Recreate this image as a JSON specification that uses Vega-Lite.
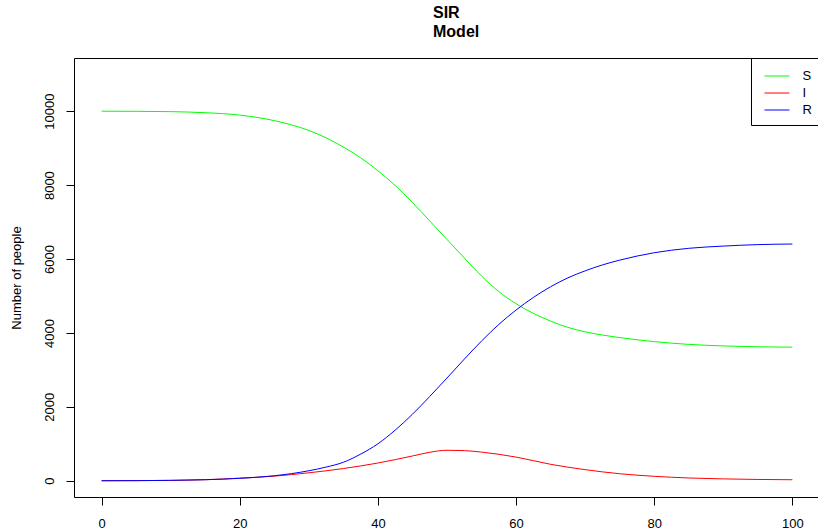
{
  "$schema": "https://vega.github.io/schema/vega-lite/v6.json",
  "autosize": {"type": "none"},
  "width": 746,
  "height": 439,
  "padding": {"left": 74, "top": 58, "right": 0, "bottom": 33},
  "background": "white",
  "title": {
    "text": ["SIR", "Model"],
    "font": "Liberation Sans",
    "fontSize": 16,
    "fontWeight": "bold",
    "color": "black",
    "anchor": "middle",
    "align": "left",
    "dx": -14,
    "lineHeight": 19,
    "offset": 18,
    "frame": "group"
  },
  "data": {
    "values": [
      {"t": 0, "n": 10000, "c": "S"}, {"t": 5, "n": 9997, "c": "S"}, {"t": 10, "n": 9988, "c": "S"}, {"t": 15, "n": 9960, "c": "S"}, {"t": 20, "n": 9895, "c": "S"}, {"t": 25, "n": 9745, "c": "S"}, {"t": 30, "n": 9480, "c": "S"}, {"t": 32.5, "n": 9280, "c": "S"}, {"t": 35, "n": 9030, "c": "S"}, {"t": 37.5, "n": 8740, "c": "S"}, {"t": 40, "n": 8390, "c": "S"}, {"t": 42.5, "n": 7990, "c": "S"}, {"t": 45, "n": 7530, "c": "S"}, {"t": 47.5, "n": 7030, "c": "S"}, {"t": 50, "n": 6530, "c": "S"}, {"t": 52.5, "n": 6030, "c": "S"}, {"t": 55, "n": 5540, "c": "S"}, {"t": 57.5, "n": 5120, "c": "S"}, {"t": 60, "n": 4790, "c": "S"}, {"t": 62.5, "n": 4530, "c": "S"}, {"t": 65, "n": 4320, "c": "S"}, {"t": 67.5, "n": 4150, "c": "S"}, {"t": 70, "n": 4030, "c": "S"}, {"t": 75, "n": 3875, "c": "S"}, {"t": 80, "n": 3765, "c": "S"}, {"t": 85, "n": 3690, "c": "S"}, {"t": 90, "n": 3648, "c": "S"}, {"t": 95, "n": 3625, "c": "S"}, {"t": 100, "n": 3614, "c": "S"},
      {"t": 0, "n": 1, "c": "I"}, {"t": 5, "n": 3, "c": "I"}, {"t": 10, "n": 10, "c": "I"}, {"t": 15, "n": 28, "c": "I"}, {"t": 20, "n": 70, "c": "I"}, {"t": 25, "n": 125, "c": "I"}, {"t": 30, "n": 215, "c": "I"}, {"t": 35, "n": 330, "c": "I"}, {"t": 40, "n": 480, "c": "I"}, {"t": 45, "n": 670, "c": "I"}, {"t": 47.5, "n": 770, "c": "I"}, {"t": 50, "n": 825, "c": "I"}, {"t": 52.5, "n": 815, "c": "I"}, {"t": 55, "n": 775, "c": "I"}, {"t": 60, "n": 640, "c": "I"}, {"t": 65, "n": 445, "c": "I"}, {"t": 70, "n": 300, "c": "I"}, {"t": 75, "n": 190, "c": "I"}, {"t": 80, "n": 120, "c": "I"}, {"t": 85, "n": 75, "c": "I"}, {"t": 90, "n": 50, "c": "I"}, {"t": 95, "n": 35, "c": "I"}, {"t": 100, "n": 27, "c": "I"},
      {"t": 0, "n": 0, "c": "R"}, {"t": 5, "n": 3, "c": "R"}, {"t": 10, "n": 10, "c": "R"}, {"t": 15, "n": 28, "c": "R"}, {"t": 20, "n": 65, "c": "R"}, {"t": 25, "n": 135, "c": "R"}, {"t": 30, "n": 270, "c": "R"}, {"t": 32.5, "n": 370, "c": "R"}, {"t": 35, "n": 500, "c": "R"}, {"t": 37.5, "n": 720, "c": "R"}, {"t": 40, "n": 1000, "c": "R"}, {"t": 42.5, "n": 1370, "c": "R"}, {"t": 45, "n": 1800, "c": "R"}, {"t": 47.5, "n": 2280, "c": "R"}, {"t": 50, "n": 2780, "c": "R"}, {"t": 52.5, "n": 3290, "c": "R"}, {"t": 55, "n": 3780, "c": "R"}, {"t": 57.5, "n": 4230, "c": "R"}, {"t": 60, "n": 4620, "c": "R"}, {"t": 62.5, "n": 4960, "c": "R"}, {"t": 65, "n": 5250, "c": "R"}, {"t": 67.5, "n": 5490, "c": "R"}, {"t": 70, "n": 5680, "c": "R"}, {"t": 72.5, "n": 5840, "c": "R"}, {"t": 75, "n": 5970, "c": "R"}, {"t": 80, "n": 6170, "c": "R"}, {"t": 85, "n": 6290, "c": "R"}, {"t": 90, "n": 6350, "c": "R"}, {"t": 95, "n": 6390, "c": "R"}, {"t": 100, "n": 6406, "c": "R"}
    ]
  },
  "mark": {"type": "line", "strokeWidth": 1, "interpolate": "monotone"},
  "encoding": {
    "x": {
      "field": "t", "type": "quantitative",
      "scale": {"domain": [-4, 104], "nice": false, "zero": false},
      "axis": {"values": [0, 20, 40, 60, 80, 100], "title": null, "grid": false, "domain": false,
        "tickColor": "black", "tickSize": 8, "labelFontSize": 13, "labelFont": "Liberation Sans",
        "labelColor": "black", "labelPadding": 12, "labelFlush": false}
    },
    "y": {
      "field": "n", "type": "quantitative",
      "scale": {"domain": [-440, 11440], "nice": false, "zero": false},
      "axis": {"values": [0, 2000, 4000, 6000, 8000, 10000], "format": "d", "title": "Number of people", "grid": false, "domain": false,
        "tickColor": "black", "tickSize": 8, "labelFontSize": 13, "labelFont": "Liberation Sans",
        "labelColor": "black", "labelAngle": 270, "labelPadding": 10, "labelFlush": false,
        "titleFont": "Liberation Sans", "titleFontSize": 13, "titleFontWeight": "normal", "titleColor": "black", "titlePadding": 20}
    },
    "color": {
      "field": "c", "type": "nominal",
      "scale": {"domain": ["S", "I", "R"], "range": ["#00ff00", "#ff0000", "#0000ff"]},
      "legend": {"title": null, "orient": "top-right", "offset": 0, "symbolType": "M-1.316,0L1.316,0", "symbolSize": 361,
        "symbolStrokeWidth": 1, "labelFontSize": 13, "labelFont": "Liberation Sans", "labelColor": "black",
        "labelOffset": 15.6, "padding": 8, "symbolOffset": 8, "rowPadding": -2, "strokeColor": "black", "fillColor": "white", "cornerRadius": 0}
    }
  },
  "config": {"view": {"stroke": "black", "strokeWidth": 1}}
}
